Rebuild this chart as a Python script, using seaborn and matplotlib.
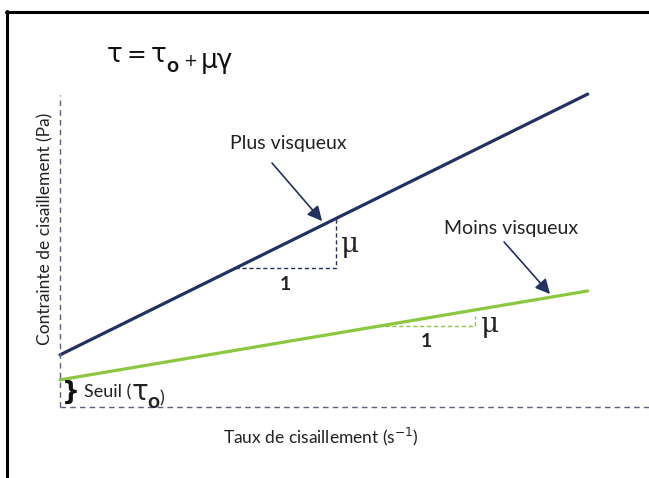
import matplotlib
matplotlib.use("Agg")
import matplotlib.pyplot as plt
from matplotlib.lines import Line2D
import seaborn as sns
import pandas as pd
import numpy as np

# Bingham-type flow curves: shear stress vs shear rate
shear_rate = [0.0, 8.96]
stress_plus = [1.67, 10.03]    # more viscous fluid
stress_moins = [0.87, 3.72]    # less viscous fluid
series_names = ["Plus visqueux", "Moins visqueux"]

# slope triangles (x start / x end along each line)
tri_plus_x = [2.97, 4.69]
tri_moins_x = [5.40, 7.05]

NAVY = "#243062"
GREEN = "#8DC63F"
AXIS_DASH = "#5b6185"
INK = "#222222"

sns.set_theme(style="white")
plt.rcParams["font.family"] = ["Lato", "DejaVu Sans"]

df = pd.DataFrame({
    "x": shear_rate * 2,
    "y": stress_plus + stress_moins,
    "courbe": [series_names[0]] * 2 + [series_names[1]] * 2,
})

fig = plt.figure(figsize=(6.49, 4.78), dpi=100)
ax = fig.add_axes([60 / 649, 71 / 478, 589 / 649, 312 / 478])

sns.lineplot(data=df, x="x", y="y", hue="courbe",
             palette={series_names[0]: NAVY, series_names[1]: GREEN},
             linewidth=2.3, legend=False, ax=ax, clip_on=False)

ax.set_xlim(0, 10)
ax.set_ylim(0, 10)
for s in ax.spines.values():
    s.set_visible(False)
ax.set_xticks([])
ax.set_yticks([])
ax.set_xlabel("")
ax.set_ylabel("")

# dashed axes
ax.plot([0, 10], [0, 0], ls=(0, (4, 3)), color=AXIS_DASH, lw=1.0, clip_on=False)
ax.plot([0, 0], [0, 10], ls=(0, (4, 3)), color=AXIS_DASH, lw=1.0, clip_on=False)


def line_y(xs, ys, x):
    return np.interp(x, xs, ys)


# slope triangle on the viscous line
y0 = line_y(shear_rate, stress_plus, tri_plus_x[0])
y1 = line_y(shear_rate, stress_plus, tri_plus_x[1])
ax.plot([tri_plus_x[0], tri_plus_x[1], tri_plus_x[1]], [y0, y0, y1],
        ls=(0, (3, 2)), color=NAVY, lw=1.0)
ax.text(tri_plus_x[1] + 0.08, (y0 + y1) / 2 - 0.05, "μ", fontsize=20, color=INK,
        ha="left", va="center", family="DejaVu Serif")
ax.text(sum(tri_plus_x) / 2, y0 - 0.5, "1", fontsize=14, fontweight="bold",
        color=INK, ha="center", va="center")

# slope triangle on the less viscous line
g0 = line_y(shear_rate, stress_moins, tri_moins_x[0])
ax.plot([tri_moins_x[0], tri_moins_x[1], tri_moins_x[1]], [g0, g0, g0 + 0.32],
        ls=(0, (3, 2)), color=GREEN, lw=1.0)
ax.text(tri_moins_x[1] + 0.1, g0 + 0.05, "μ", fontsize=20, color=INK,
        ha="left", va="center", family="DejaVu Serif")
ax.text(sum(tri_moins_x) / 2, g0 - 0.5, "1", fontsize=14, fontweight="bold",
        color=INK, ha="center", va="center")

# callouts
arrow_kw = dict(arrowstyle="-|>", color=NAVY, lw=1.2, mutation_scale=22,
                shrinkA=0, shrinkB=0)
ax.annotate("", xy=(4.45, 5.96), xytext=(3.60, 7.82), arrowprops=arrow_kw)
ax.text(3.87, 8.46, series_names[0], fontsize=14, color=INK,
        ha="center", va="center")
ax.annotate("", xy=(8.32, 3.62), xytext=(7.54, 5.29), arrowprops=arrow_kw)
ax.text(7.66, 5.71, series_names[1], fontsize=14, color=INK,
        ha="center", va="center")

# yield stress marker: brace, then "Seuil (τo)" built piece by piece
brace = ax.text(0.04, 0.47, "}", fontsize=18, fontweight="bold", color="#111111",
                ha="left", va="center", family="DejaVu Sans")
seuil = ax.annotate("Seuil (", xy=(1.0, 0.5), xycoords=brace,
                    xytext=(3, 0), textcoords="offset points",
                    fontsize=13, color=INK, ha="left", va="center")
tau0 = ax.annotate("τ", xy=(1.0, 0.5), xycoords=seuil,
                   xytext=(0, 0), textcoords="offset points",
                   fontsize=20, color=INK, ha="left", va="center",
                   family="DejaVu Sans")
sub0 = ax.annotate("o", xy=(1.0, 0.3), xycoords=tau0,
                   xytext=(-1, -3), textcoords="offset points",
                   fontsize=15, fontweight="bold", color=INK,
                   ha="left", va="center")
ax.annotate(")", xy=(1.0, 0.5), xycoords=sub0, xytext=(0, 3),
            textcoords="offset points", fontsize=13, color=INK,
            ha="left", va="center")

# axis titles
fig.text(321 / 649, 1 - 437 / 478, r"Taux de cisaillement (s$^{-1}$)",
         fontsize=12.5, color=INK, ha="center", va="center")
fig.text(45 / 649, 1 - 229 / 478, "Contrainte de cisaillement (Pa)",
         fontsize=12.5, color=INK, ha="center", va="center", rotation=90)

# equation  τ = τo + μγ, set glyph by glyph to keep it compact
EQ_INK = "#111111"
eq_tau = fig.text(107 / 649, 1 - 55 / 478, "τ", fontsize=19, color=EQ_INK,
                  ha="left", va="center", family="DejaVu Sans")
eq_eq = plt.annotate("=", xy=(1.0, 0.5), xycoords=eq_tau, xytext=(3, 0),
                     textcoords="offset points", fontsize=17, color=EQ_INK,
                     ha="left", va="center", family="DejaVu Sans")
eq_tau0 = plt.annotate("τ", xy=(1.0, 0.5), xycoords=eq_eq, xytext=(3, 0),
                       textcoords="offset points", fontsize=19, color=EQ_INK,
                       ha="left", va="center", family="DejaVu Sans")
eq_sub = plt.annotate("o", xy=(1.0, 0.2), xycoords=eq_tau0, xytext=(0, -2),
                      textcoords="offset points", fontsize=15,
                      fontweight="bold", color=EQ_INK, ha="left", va="center")
eq_plus = plt.annotate("+", xy=(1.0, 0.5), xycoords=eq_sub, xytext=(3, 3),
                       textcoords="offset points", fontsize=12,
                       color=EQ_INK, ha="left", va="center",
                       family="DejaVu Sans")
plt.annotate("μγ", xy=(1.0, 0.5), xycoords=eq_plus, xytext=(3, 0),
             textcoords="offset points", fontsize=19, color=EQ_INK,
             ha="left", va="center", family="DejaVu Sans")

# frame
fig.add_artist(Line2D([7 / 649, 7 / 649], [0, 1 - 11 / 478],
                      transform=fig.transFigure, color="black", lw=2.2))
fig.add_artist(Line2D([6 / 649, 1], [1 - 12 / 478, 1 - 12 / 478],
                      transform=fig.transFigure, color="black", lw=2.2))

fig.savefig("out.png", dpi=100)
